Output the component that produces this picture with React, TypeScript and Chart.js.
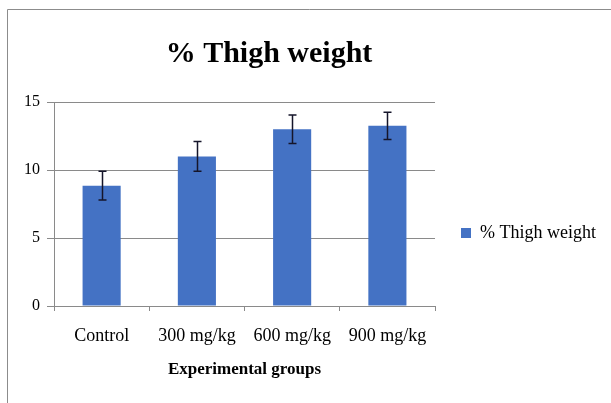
import { useEffect, useRef } from "react";
import { Chart, registerables } from "chart.js";

Chart.register(...registerables);

const categories = ["Control", "300 mg/kg", "600 mg/kg", "900 mg/kg"];
const thighWeight = [8.85, 11.0, 13.0, 13.25];
const thighWeightError = [1.05, 1.1, 1.05, 1.0];
const yTicks = [0, 5, 10, 15];
const chartTitle = "% Thigh weight";
const seriesLabel = "% Thigh weight";
const xAxisTitle = "Experimental groups";

const SERIF = '"Liberation Serif", "Times New Roman", serif';
const GRID = "#8a8a8a";

const framePlugin = {
  id: "frame",
  beforeDraw(chart: any) {
    const ctx = chart.ctx;
    ctx.save();
    ctx.fillStyle = "#ffffff";
    ctx.fillRect(0, 0, chart.width, chart.height);
    ctx.strokeStyle = "#8c8c8c";
    ctx.lineWidth = 1;
    ctx.beginPath();
    ctx.moveTo(7.5, chart.height);
    ctx.lineTo(7.5, 9.5);
    ctx.lineTo(chart.width, 9.5);
    ctx.stroke();
    ctx.restore();
  },
  afterDraw(chart: any) {
    const ctx = chart.ctx;
    ctx.save();
    ctx.fillStyle = "#000000";
    ctx.font = `bold 30px ${SERIF}`;
    ctx.textAlign = "center";
    ctx.textBaseline = "alphabetic";
    ctx.fillText(chartTitle, 269, 62);
    ctx.restore();
  },
};

const errorBarPlugin = {
  id: "errorBars",
  afterDatasetsDraw(chart: any) {
    const ctx = chart.ctx;
    const meta = chart.getDatasetMeta(0);
    const yScale = chart.scales.y;
    ctx.save();
    ctx.strokeStyle = "#15152a";
    ctx.lineWidth = 1.5;
    meta.data.forEach((bar: any, i: number) => {
      const x = Math.round(bar.x) + 0.5;
      const top = yScale.getPixelForValue(thighWeight[i] + thighWeightError[i]);
      const bot = yScale.getPixelForValue(thighWeight[i] - thighWeightError[i]);
      ctx.beginPath();
      ctx.moveTo(x, top);
      ctx.lineTo(x, bot);
      ctx.moveTo(x - 4, top);
      ctx.lineTo(x + 4, top);
      ctx.moveTo(x - 4, bot);
      ctx.lineTo(x + 4, bot);
      ctx.stroke();
    });
    ctx.restore();
  },
};

export default function App() {
  const canvasRef = useRef<HTMLCanvasElement | null>(null);

  useEffect(() => {
    if (!canvasRef.current) return;
    const chart = new Chart(canvasRef.current, {
      type: "bar",
      data: {
        labels: categories,
        datasets: [
          {
            label: seriesLabel,
            data: thighWeight,
            backgroundColor: "#4472C4",
            borderWidth: 0,
            barPercentage: 0.4,
            categoryPercentage: 1,
          },
        ],
      },
      options: {
        responsive: false,
        maintainAspectRatio: false,
        animation: false,
        layout: { padding: { left: 17, right: 5, top: 102, bottom: 39 } },
        plugins: {
          title: { display: false },
          tooltip: { enabled: false },
          legend: {
            display: true,
            position: "right",
            align: "center",
            maxWidth: 260,
            labels: {
              boxWidth: 10,
              boxHeight: 10,
              padding: 26,
              color: "#000000",
              font: { family: SERIF, size: 18 },
            },
          },
        },
        scales: {
          x: {
            offset: true,
            grid: {
              offset: true,
              drawOnChartArea: false,
              drawTicks: true,
              tickLength: 5,
              color: GRID,
            },
            border: { display: true, color: GRID },
            ticks: {
              color: "#000000",
              padding: 14,
              font: { family: SERIF, size: 18 },
              maxRotation: 0,
            },
            title: {
              display: true,
              text: xAxisTitle,
              color: "#000000",
              font: { family: SERIF, size: 17, weight: "bold" },
              padding: { top: -1, bottom: -16 },
            },
          },
          y: {
            min: 0,
            max: 15,
            afterBuildTicks: (scale: any) => {
              scale.ticks = yTicks.map((v) => ({ value: v }));
            },
            grid: {
              color: GRID,
              drawTicks: true,
              tickLength: 7,
            },
            border: { display: true, color: GRID },
            ticks: {
              color: "#000000",
              padding: 7,
              font: { family: SERIF, size: 16 },
            },
          },
        },
      },
      plugins: [framePlugin, errorBarPlugin],
    });
    return () => chart.destroy();
  }, []);

  return (
    <div style={{ position: "fixed", left: 0, top: 0, width: 611, height: 403 }}>
      <canvas ref={canvasRef} width={611} height={403} style={{ width: 611, height: 403 }} />
    </div>
  );
}
